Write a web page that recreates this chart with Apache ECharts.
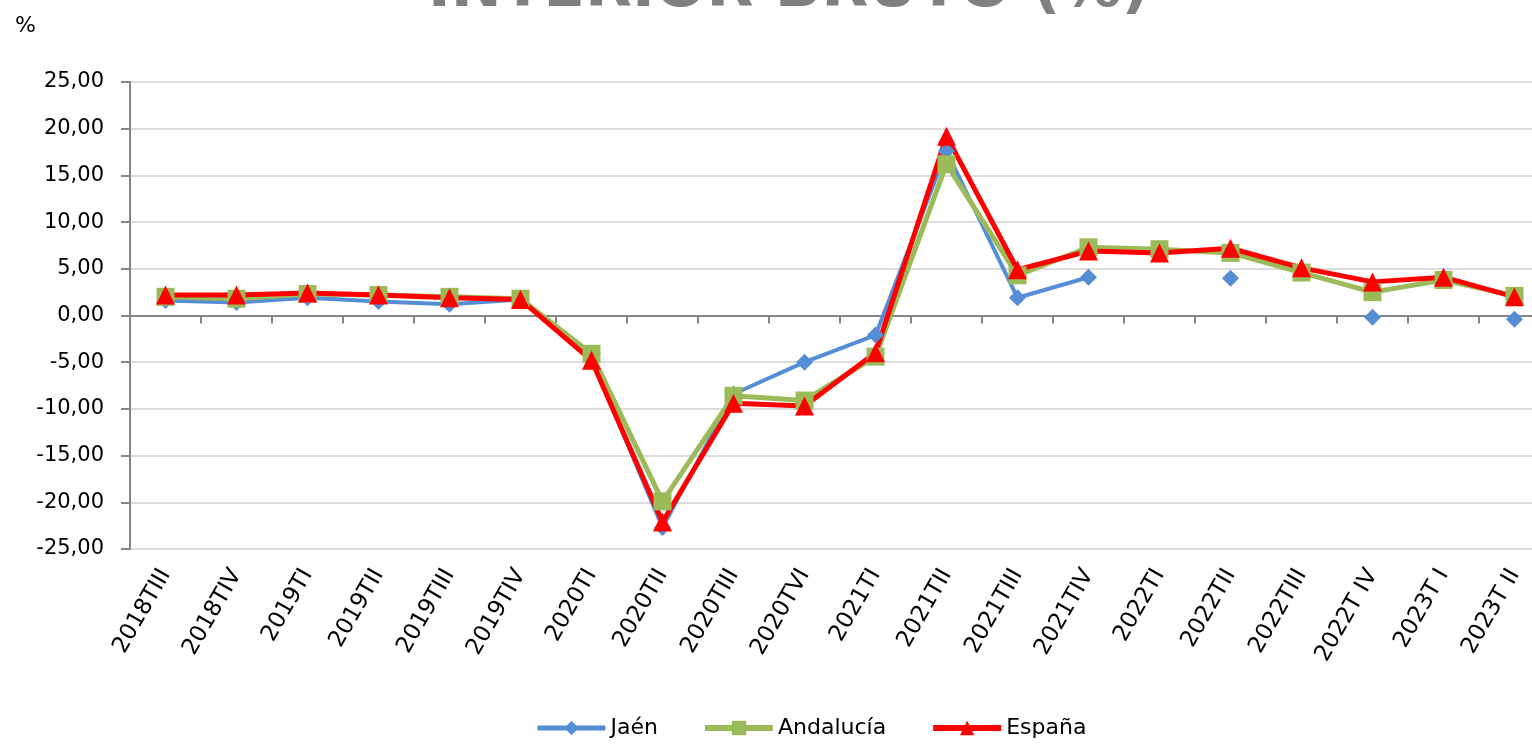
<!DOCTYPE html>
<html>
<head>
<meta charset="utf-8">
<script src="https://cdn.jsdelivr.net/npm/echarts@6/dist/echarts.min.js"></script>
<style>
html,body{margin:0;padding:0;background:#fff;overflow:hidden;width:1532px;height:748px;}
#chart{width:1550px;height:748px;}
</style>
</head>
<body>
<div id="chart"></div>
<script>
const categories = ["2018TIII","2018TIV","2019TI","2019TII","2019TIII","2019TIV","2020TI","2020TII","2020TIII","2020TVI","2021TI","2021TII","2021TIII","2021TIV","2022TI","2022TII","2022TIII","2022T IV","2023T I","2023T II"];
const jaen = [1.6,1.4,1.9,1.5,1.2,1.7,-4.6,-22.7,-8.4,-5.0,-2.1,17.6,1.9,4.1,null,4.0,null,-0.2,null,-0.4];
const andalucia = [2.0,1.8,2.3,2.2,2.0,1.8,-4.1,-19.9,-8.6,-9.1,-4.4,16.2,4.3,7.3,7.1,6.7,4.6,2.5,3.8,2.1];
const espana = [2.2,2.2,2.4,2.2,1.9,1.7,-4.8,-22.1,-9.4,-9.7,-4.0,19.2,4.9,6.9,6.7,7.2,5.1,3.6,4.1,2.0];
const titleText = "INTERIOR BRUTO (%)";
const unitText = "%";

const FONT = "DejaVu Sans";
const chart = echarts.init(document.getElementById('chart'), null, {renderer:'canvas'});
chart.setOption({
  backgroundColor:'#ffffff',
  animation:false,
  title:[
    {text:titleText, left:423, top:-45, textStyle:{fontFamily:FONT, fontWeight:'bold', fontSize:61, lineHeight:61, color:'#808080'}},
    {text:unitText, left:10, top:10, textStyle:{fontFamily:FONT, fontWeight:'normal', fontSize:22, color:'#000'}}
  ],
  grid:{left:130, right:0, top:82, bottom:199, containLabel:false},
  legend:{
    left:530, bottom:4, itemWidth:68, itemHeight:18, itemGap:44,
    textStyle:{fontFamily:FONT, fontSize:22, color:'#000'},
    data:[
      {name:'Jaén', lineStyle:{width:5}},
      {name:'Andalucía', lineStyle:{width:6}},
      {name:'España', lineStyle:{width:6}}
    ]
  },
  xAxis:[
    {type:'category', data:categories, boundaryGap:true, position:'bottom',
     axisLine:{show:true, onZero:true, lineStyle:{color:'#868686', width:2}},
     axisTick:{show:true, length:8, interval:0, lineStyle:{color:'#868686', width:2}},
     axisLabel:{show:false}, splitLine:{show:false}},
    {type:'category', data:categories, boundaryGap:true, position:'bottom',
     axisLine:{show:false, onZero:false}, axisTick:{show:false},
     axisLabel:{show:true, interval:0, rotate:60, margin:22, fontFamily:FONT, fontSize:23, color:'#000'},
     splitLine:{show:false}}
  ],
  yAxis:{type:'value', min:-25, max:25, interval:5,
    axisLine:{show:true, lineStyle:{color:'#868686', width:2}},
    axisTick:{show:true, length:9, lineStyle:{color:'#868686', width:2}},
    axisLabel:{margin:26, fontFamily:FONT, fontSize:21, color:'#000', formatter:v=>v.toFixed(2).replace('.',',')},
    splitLine:{show:true, lineStyle:{color:'#dcdcdc', width:2}}
  },
  series:[
    {name:'Jaén', type:'line', data:jaen, xAxisIndex:0, symbol:'diamond', symbolSize:17, showAllSymbol:true, connectNulls:false,
     itemStyle:{color:'#558ED5'}, lineStyle:{color:'#558ED5', width:4}},
    {name:'Andalucía', type:'line', data:andalucia, xAxisIndex:0, symbol:'rect', symbolSize:18, showAllSymbol:true,
     itemStyle:{color:'#9BBB59'}, lineStyle:{color:'#9BBB59', width:5}},
    {name:'España', type:'line', data:espana, xAxisIndex:0, symbol:'triangle', symbolSize:19, showAllSymbol:true,
     itemStyle:{color:'#FF0000'}, lineStyle:{color:'#FF0000', width:5}}
  ]
});
</script>
</body>
</html>
